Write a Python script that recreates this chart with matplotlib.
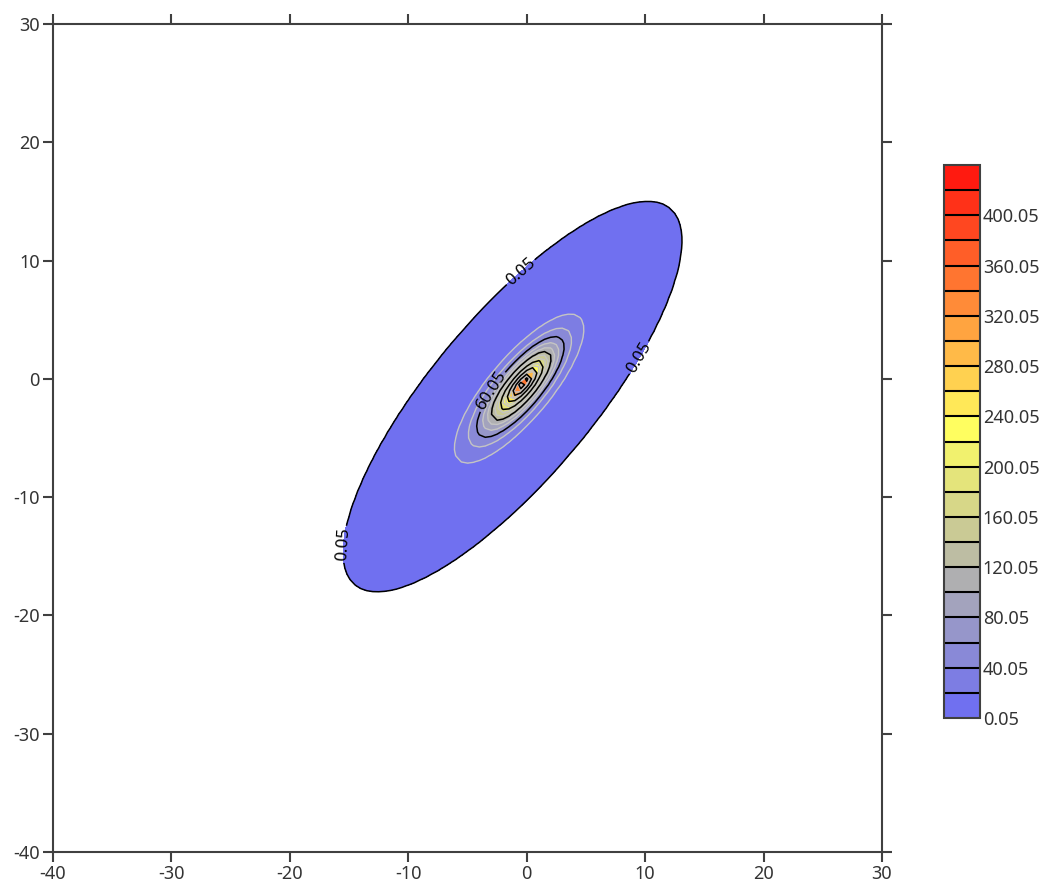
import numpy as np
import matplotlib
matplotlib.use("Agg")
import matplotlib.pyplot as plt
from matplotlib.colors import LinearSegmentedColormap, ListedColormap, BoundaryNorm

plt.rcParams["font.family"] = ["Noto Sans", "DejaVu Sans"]
plt.rcParams["axes.unicode_minus"] = False

# contour levels and colour bar labels
levels = 0.05 + 20 * np.arange(23)          # 0.05 ... 440.05
cbar_ticks = levels[:-1:2]                  # 0.05, 40.05, ... 400.05

# values
peak_value = 440.0                  # height near the origin
peak_center = (-0.3, -0.4)          # where the inner contours close in
outer_center = (-1.2, -1.5)         # centre of the 0.05 contour
outer_halfwidth = (14.3, 16.5)      # half extent of the 0.05 contour in x, y
outer_rho = 0.8                     # tilt of the ellipses
falloff = 1.12                      # log-height ~ radius**falloff

x = np.arange(-40, 30.01, 0.5)
y = np.arange(-40, 30.01, 0.5)

# colour nodes of the scale: blue -> grey -> yellow -> red
node_pos = [0, 5 / 21, 11 / 21, 1]
node_col = ["#7070f0", "#b0b0b0", "#ffff60", "#ff1a10"]


def field(X, Y):
    # egg shaped peak: contour at log-height g is the outer ellipse
    # scaled by D, shifted by D*m
    D0 = np.log(peak_value / levels[0])
    c0 = np.array(peak_center)
    m = (np.array(outer_center) - c0)
    sx, sy = outer_halfwidth
    C = np.array([[sx * sx, outer_rho * sx * sy], [outer_rho * sx * sy, sy * sy]])
    Ci = np.linalg.inv(C)
    P = np.stack([X - c0[0], Y - c0[1]], -1)
    q = np.einsum("...i,ij,...j->...", P, Ci, P)
    l = P @ (Ci @ m)
    t = m @ Ci @ m
    D = (-l + np.sqrt(l * l + (1 - t) * q)) / (1 - t)   # 1 on the outer contour
    return peak_value * np.exp(-D0 * D ** falloff)


X, Y = np.meshgrid(x, y)
Z = field(X, Y)

base = LinearSegmentedColormap.from_list("bgyr", list(zip(node_pos, node_col)))
cmap = ListedColormap([base(i / 21) for i in range(22)])
norm = BoundaryNorm(levels, 22)

fig = plt.figure(figsize=(10.56, 8.88), dpi=100)
ax = fig.add_axes([53 / 1056, 1 - 852 / 888, 829 / 1056, 828 / 888])

cf = ax.contourf(X, Y, Z, levels=levels, cmap=cmap, norm=norm)

line_levels = levels[:-1]
black_lv = line_levels[::3]
grey_lv = [v for i, v in enumerate(line_levels) if i % 3]
ax.contour(X, Y, Z, levels=grey_lv, colors="#c4c4c4", linewidths=1.0)
cs = ax.contour(X, Y, Z, levels=black_lv, colors="black", linewidths=1.1)
ax.clabel(cs, levels=[levels[0], levels[3]], fmt="%.2f", fontsize=12,
          inline=True, inline_spacing=2,
          manual=[(-0.3, 8.8), (9.1, 2.0), (-15.3, -14.0), (-2.7, -1.2)])

ax.set_xlim(-40, 30)
ax.set_ylim(-40, 30)
ax.set_xticks(np.arange(-40, 31, 10))
ax.set_yticks(np.arange(-40, 31, 10))
for s in ax.spines.values():
    s.set_color("#404040")
    s.set_linewidth(1.5)
ax.tick_params(direction="out", top=True, right=True, length=7.5, width=1.5,
               color="#404040", labelsize=13, labelcolor="#333333", pad=2)

cax = fig.add_axes([944 / 1056, 1 - 718 / 888, 36 / 1056, 553 / 888])
cb = fig.colorbar(cf, cax=cax, ticks=cbar_ticks, format="%.2f", drawedges=True)
cb.dividers.set_color("black")
cb.dividers.set_linewidth(1.5)
cb.outline.set_edgecolor("#404040")
cb.outline.set_linewidth(1.5)
cb.ax.minorticks_off()
cb.ax.tick_params(which="both", length=0, labelsize=13, labelcolor="#333333", pad=2)

fig.savefig("out.png", dpi=100)
